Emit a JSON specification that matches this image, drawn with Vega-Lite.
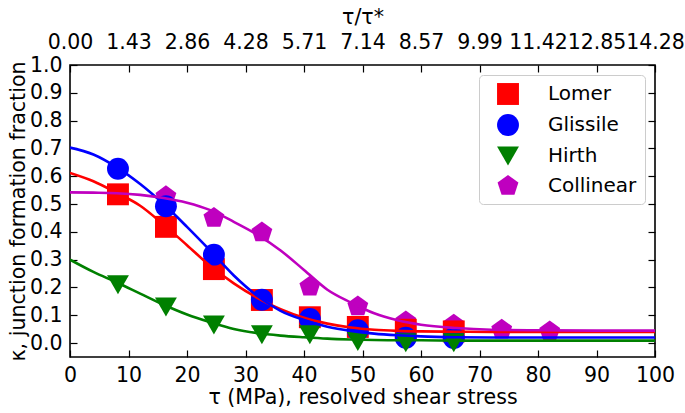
{
  "$schema": "https://vega.github.io/schema/vega-lite/v6.json",
  "width": 585,
  "height": 292,
  "autosize": {"type": "none"},
  "padding": {"left": 70, "top": 65, "right": 30, "bottom": 56},
  "datasets": {
    "pts": [
      {"series": "Collinear", "tau": 16.4, "kappa": 0.528},
      {"series": "Collinear", "tau": 24.6, "kappa": 0.45},
      {"series": "Collinear", "tau": 32.8, "kappa": 0.398},
      {"series": "Collinear", "tau": 41.0, "kappa": 0.203},
      {"series": "Collinear", "tau": 49.2, "kappa": 0.132},
      {"series": "Collinear", "tau": 57.4, "kappa": 0.078},
      {"series": "Collinear", "tau": 65.6, "kappa": 0.066},
      {"series": "Collinear", "tau": 73.8, "kappa": 0.048},
      {"series": "Collinear", "tau": 82.0, "kappa": 0.042},
      {"series": "Lomer", "tau": 8.2, "kappa": 0.535},
      {"series": "Lomer", "tau": 16.4, "kappa": 0.418},
      {"series": "Lomer", "tau": 24.6, "kappa": 0.266},
      {"series": "Lomer", "tau": 32.8, "kappa": 0.155},
      {"series": "Lomer", "tau": 41.0, "kappa": 0.093},
      {"series": "Lomer", "tau": 49.2, "kappa": 0.058},
      {"series": "Lomer", "tau": 57.4, "kappa": 0.048},
      {"series": "Lomer", "tau": 65.6, "kappa": 0.042},
      {"series": "Glissile", "tau": 8.2, "kappa": 0.627},
      {"series": "Glissile", "tau": 16.4, "kappa": 0.492},
      {"series": "Glissile", "tau": 24.6, "kappa": 0.318},
      {"series": "Glissile", "tau": 32.8, "kappa": 0.156},
      {"series": "Glissile", "tau": 41.0, "kappa": 0.087},
      {"series": "Glissile", "tau": 49.2, "kappa": 0.046},
      {"series": "Glissile", "tau": 57.4, "kappa": 0.019},
      {"series": "Glissile", "tau": 65.6, "kappa": 0.018},
      {"series": "Hirth", "tau": 8.2, "kappa": 0.21},
      {"series": "Hirth", "tau": 16.4, "kappa": 0.13},
      {"series": "Hirth", "tau": 24.6, "kappa": 0.065},
      {"series": "Hirth", "tau": 32.8, "kappa": 0.03},
      {"series": "Hirth", "tau": 41.0, "kappa": 0.03},
      {"series": "Hirth", "tau": 49.2, "kappa": 0.006},
      {"series": "Hirth", "tau": 57.4, "kappa": 0.001},
      {"series": "Hirth", "tau": 65.6, "kappa": 0.001}
    ],
    "fit": [
      {"series": "Lomer", "tau": 0, "kappa": 0.612},
      {"series": "Lomer", "tau": 4, "kappa": 0.582},
      {"series": "Lomer", "tau": 8, "kappa": 0.54},
      {"series": "Lomer", "tau": 12, "kappa": 0.494},
      {"series": "Lomer", "tau": 16, "kappa": 0.426},
      {"series": "Lomer", "tau": 20, "kappa": 0.352},
      {"series": "Lomer", "tau": 24, "kappa": 0.277},
      {"series": "Lomer", "tau": 28, "kappa": 0.215},
      {"series": "Lomer", "tau": 32, "kappa": 0.163},
      {"series": "Lomer", "tau": 36, "kappa": 0.122},
      {"series": "Lomer", "tau": 40, "kappa": 0.091},
      {"series": "Lomer", "tau": 44, "kappa": 0.07},
      {"series": "Lomer", "tau": 48, "kappa": 0.056},
      {"series": "Lomer", "tau": 52, "kappa": 0.048},
      {"series": "Lomer", "tau": 56, "kappa": 0.044},
      {"series": "Lomer", "tau": 60, "kappa": 0.042},
      {"series": "Lomer", "tau": 66, "kappa": 0.041},
      {"series": "Lomer", "tau": 72, "kappa": 0.04},
      {"series": "Lomer", "tau": 80, "kappa": 0.04},
      {"series": "Lomer", "tau": 90, "kappa": 0.04},
      {"series": "Lomer", "tau": 100, "kappa": 0.04},
      {"series": "Glissile", "tau": 0, "kappa": 0.703},
      {"series": "Glissile", "tau": 4, "kappa": 0.678},
      {"series": "Glissile", "tau": 8, "kappa": 0.632},
      {"series": "Glissile", "tau": 12, "kappa": 0.572},
      {"series": "Glissile", "tau": 16, "kappa": 0.5},
      {"series": "Glissile", "tau": 20, "kappa": 0.418},
      {"series": "Glissile", "tau": 24, "kappa": 0.332},
      {"series": "Glissile", "tau": 28, "kappa": 0.243},
      {"series": "Glissile", "tau": 32, "kappa": 0.17},
      {"series": "Glissile", "tau": 36, "kappa": 0.116},
      {"series": "Glissile", "tau": 40, "kappa": 0.083},
      {"series": "Glissile", "tau": 44, "kappa": 0.059},
      {"series": "Glissile", "tau": 48, "kappa": 0.044},
      {"series": "Glissile", "tau": 52, "kappa": 0.034},
      {"series": "Glissile", "tau": 56, "kappa": 0.028},
      {"series": "Glissile", "tau": 60, "kappa": 0.024},
      {"series": "Glissile", "tau": 66, "kappa": 0.021},
      {"series": "Glissile", "tau": 72, "kappa": 0.02},
      {"series": "Glissile", "tau": 80, "kappa": 0.02},
      {"series": "Glissile", "tau": 90, "kappa": 0.02},
      {"series": "Glissile", "tau": 100, "kappa": 0.02},
      {"series": "Hirth", "tau": 0, "kappa": 0.3},
      {"series": "Hirth", "tau": 4, "kappa": 0.256},
      {"series": "Hirth", "tau": 8, "kappa": 0.218},
      {"series": "Hirth", "tau": 12, "kappa": 0.178},
      {"series": "Hirth", "tau": 16, "kappa": 0.138},
      {"series": "Hirth", "tau": 20, "kappa": 0.103},
      {"series": "Hirth", "tau": 24, "kappa": 0.075},
      {"series": "Hirth", "tau": 28, "kappa": 0.051},
      {"series": "Hirth", "tau": 32, "kappa": 0.036},
      {"series": "Hirth", "tau": 36, "kappa": 0.027},
      {"series": "Hirth", "tau": 40, "kappa": 0.021},
      {"series": "Hirth", "tau": 44, "kappa": 0.016},
      {"series": "Hirth", "tau": 48, "kappa": 0.013},
      {"series": "Hirth", "tau": 52, "kappa": 0.011},
      {"series": "Hirth", "tau": 56, "kappa": 0.01},
      {"series": "Hirth", "tau": 60, "kappa": 0.01},
      {"series": "Hirth", "tau": 66, "kappa": 0.009},
      {"series": "Hirth", "tau": 72, "kappa": 0.009},
      {"series": "Hirth", "tau": 80, "kappa": 0.009},
      {"series": "Hirth", "tau": 90, "kappa": 0.009},
      {"series": "Hirth", "tau": 100, "kappa": 0.009},
      {"series": "Collinear", "tau": 0, "kappa": 0.542},
      {"series": "Collinear", "tau": 4, "kappa": 0.541},
      {"series": "Collinear", "tau": 8, "kappa": 0.539},
      {"series": "Collinear", "tau": 12, "kappa": 0.533},
      {"series": "Collinear", "tau": 16, "kappa": 0.522},
      {"series": "Collinear", "tau": 20, "kappa": 0.505},
      {"series": "Collinear", "tau": 24, "kappa": 0.478},
      {"series": "Collinear", "tau": 28, "kappa": 0.436},
      {"series": "Collinear", "tau": 32, "kappa": 0.39},
      {"series": "Collinear", "tau": 36, "kappa": 0.333},
      {"series": "Collinear", "tau": 40, "kappa": 0.263},
      {"series": "Collinear", "tau": 44, "kappa": 0.192},
      {"series": "Collinear", "tau": 48, "kappa": 0.146},
      {"series": "Collinear", "tau": 52, "kappa": 0.107},
      {"series": "Collinear", "tau": 56, "kappa": 0.082},
      {"series": "Collinear", "tau": 60, "kappa": 0.066},
      {"series": "Collinear", "tau": 66, "kappa": 0.054},
      {"series": "Collinear", "tau": 72, "kappa": 0.048},
      {"series": "Collinear", "tau": 80, "kappa": 0.046},
      {"series": "Collinear", "tau": 90, "kappa": 0.045},
      {"series": "Collinear", "tau": 100, "kappa": 0.045}
    ]
  },
  "resolve": {"axis": {"x": "independent", "y": "independent"}},
  "layer": [
    {
      "data": {"name": "pts"},
      "mark": {"type": "point", "filled": true, "opacity": 1, "size": 480, "strokeWidth": 0},
      "encoding": {
        "x": {
          "field": "tau", "type": "quantitative",
          "scale": {"domain": [0, 100], "nice": false, "zero": false},
          "axis": {"orient": "bottom", "values": [0, 10, 20, 30, 40, 50, 60, 70, 80, 90, 100], "format": "d", "title": "τ (MPa), resolved shear stress", "labelPadding": 15, "titlePadding": 2}
        },
        "y": {
          "field": "kappa", "type": "quantitative",
          "scale": {"domain": [-0.05, 1.0], "nice": false, "zero": false},
          "axis": {"orient": "left", "values": [0, 0.1, 0.2, 0.3, 0.4, 0.5, 0.6, 0.7, 0.8, 0.9, 1.0], "format": ".1f", "title": "κ, junction formation fraction", "labelPadding": 15, "titlePadding": 1}
        },
        "color": {
          "field": "series", "type": "nominal",
          "scale": {"domain": ["Lomer", "Glissile", "Hirth", "Collinear"], "range": ["#ff0000", "#0000ff", "#008000", "#bf00bf"]},
          "legend": {"title": null}
        },
        "shape": {
          "field": "series", "type": "nominal",
          "scale": {"domain": ["Lomer", "Glissile", "Hirth", "Collinear"], "range": ["square", "circle", "triangle-down", "M0,-1L0.951,-0.309L0.588,0.809L-0.588,0.809L-0.951,-0.309Z"]},
          "legend": {"title": null}
        }
      }
    },
    {
      "data": {"name": "fit"},
      "mark": {"type": "line", "strokeWidth": 2.6, "interpolate": "monotone", "clip": true},
      "encoding": {
        "x": {
          "field": "tau", "type": "quantitative",
          "axis": {"orient": "top", "values": [0, 10, 20, 30, 40, 50, 60, 70, 80, 90, 100], "labelExpr": "['0.00','1.43','2.86','4.28','5.71','7.14','8.57','9.99','11.42','12.85','14.28'][round(datum.value / 10)]", "title": "τ/τ*", "labelPadding": 20, "titlePadding": 5}
        },
        "y": {
          "field": "kappa", "type": "quantitative",
          "axis": {"orient": "right", "values": [0, 0.1, 0.2, 0.3, 0.4, 0.5, 0.6, 0.7, 0.8, 0.9, 1.0], "labels": false, "title": null}
        },
        "stroke": {
          "field": "series", "type": "nominal",
          "scale": {"domain": ["Lomer", "Glissile", "Hirth", "Collinear"], "range": ["#ff0000", "#0000ff", "#008000", "#bf00bf"]},
          "legend": null
        },
        "detail": {"field": "series"}
      }
    }
  ],
  "config": {
    "font": "DejaVu Sans",
    "view": {"stroke": "#000000", "strokeWidth": 1.6},
    "axis": {
      "domain": false,
      "grid": false,
      "ticks": true,
      "tickSize": -7,
      "tickWidth": 1.2,
      "tickColor": "#000000",
      "labelFont": "DejaVu Sans",
      "labelFontSize": 20.5,
      "labelColor": "#000000",
      "labelOverlap": false,
      "labelFlush": false,
      "titleFont": "DejaVu Sans",
      "titleFontSize": 20.6,
      "titleFontWeight": "normal",
      "titleColor": "#000000"
    },
    "legend": {
      "orient": "top-right",
      "offset": 10,
      "padding": 8,
      "fillColor": "#ffffff",
      "strokeColor": "#cccccc",
      "cornerRadius": 4,
      "labelFont": "DejaVu Sans",
      "labelFontSize": 20,
      "labelColor": "#000000",
      "labelOffset": 29,
      "symbolSize": 480,
      "symbolOffset": 10,
      "symbolStrokeWidth": 0,
      "symbolOpacity": 1,
      "rowPadding": 9
    }
  }
}
